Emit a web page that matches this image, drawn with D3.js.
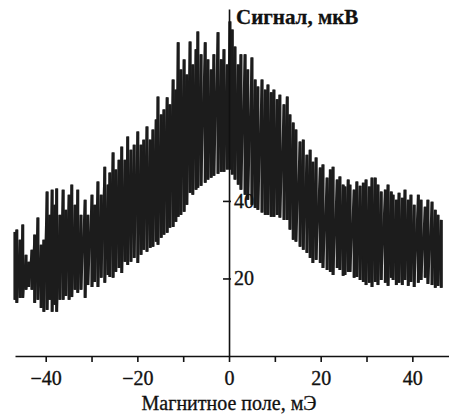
<!DOCTYPE html>
<html>
  <head>
    <meta charset="utf-8" />
    <title>Сигнал vs магнитное поле</title>
    <style>
      body { margin: 0; background: #fff; }
      svg { display: block; }
      .axis path, .axis line { stroke: #111; stroke-width: 1.6; }
      .axis text { font-family: "Liberation Serif", "DejaVu Serif", serif; font-size: 20px; fill: #111; stroke: #111; stroke-width: 0.35; }
      .title { font-family: "Liberation Serif", "DejaVu Serif", serif; font-size: 20px; fill: #111; stroke: #111; stroke-width: 0.3; }
    </style>
  </head>
  <body>
    <svg width="449" height="418"></svg>

    <script src="https://d3js.org/d3.v7.min.js"></script>
    <script>
      // magnetic field, mOe (sample positions)
      const field = [
        -46.7, -46.3, -45.6, -45.0, -44.3, -43.7, -43.0, -42.4, -41.7, -41.0,
        -40.4, -39.7, -39.1, -38.6, -38.0, -37.6, -36.9, -36.2, -35.6, -34.9,
        -34.3, -33.6, -33.0, -32.3, -31.4, -30.8, -29.9, -29.3, -28.6, -27.9,
        -27.1, -26.4, -26.0, -25.3, -24.7, -24.0, -23.4, -22.7, -22.1, -21.4,
        -20.7, -19.9, -19.2, -18.6, -17.9, -17.2, -16.6, -15.9, -15.5, -14.8,
        -14.2, -13.5, -12.9, -12.2, -11.6, -11.1, -10.5, -9.8, -9.2, -8.5,
        -7.9, -7.2, -6.8, -6.1, -5.2, -4.6, -3.9, -3.3, -2.4, -1.7,
        -1.1, -0.4, 0.2, 0.7, 1.3, 2.0, 2.6, 3.5, 4.1, 5.0,
        5.7, 6.3, 7.2, 7.9, 8.5, 9.2, 9.8, 10.5, 11.1, 12.0,
        12.7, 13.3, 14.0, 14.6, 15.5, 16.2, 17.0, 17.7, 18.3, 19.0,
        19.9, 20.5, 21.4, 22.1, 22.7, 23.6, 24.2, 24.9, 25.3, 26.0,
        26.4, 27.3, 27.9, 28.6, 29.3, 29.9, 30.6, 31.2, 31.9, 32.5,
        33.2, 34.1, 34.7, 35.4, 35.8, 36.5, 37.1, 37.8, 38.4, 39.1,
        39.7, 40.4, 41.3, 41.9, 42.8, 43.4, 44.3, 45.0, 45.6, 46.3
      ];
      // signal swing at each position, uV (upper and lower excursions)
      const sigHigh = [
        32.0, 32.6, 30.0, 33.9, 26.1, 24.3, 27.4, 31.3, 35.7, 28.7,
        30.0, 42.4, 36.4, 42.9, 39.0, 43.2, 36.4, 42.9, 37.7, 41.6,
        44.2, 39.0, 42.9, 36.4, 40.3, 36.4, 41.6, 39.0, 45.0, 41.6,
        48.8, 44.2, 47.3, 52.5, 48.1, 50.6, 54.0, 50.6, 56.6, 53.2,
        54.5, 57.9, 54.5, 55.8, 59.2, 55.8, 58.4, 61.0, 66.9, 62.3,
        63.6, 66.7, 64.9, 71.3, 68.7, 80.9, 73.9, 76.5, 72.6, 81.1,
        75.2, 79.1, 83.7, 77.8, 80.9, 76.5, 73.9, 77.8, 83.5, 76.5,
        79.1, 75.2, 86.3, 84.2, 79.8, 75.2, 77.8, 77.8, 73.9, 77.0,
        71.3, 69.5, 71.3, 68.7, 70.0, 68.0, 68.7, 66.2, 67.4, 64.9,
        66.9, 62.3, 60.2, 58.4, 55.3, 55.8, 51.9, 53.2, 50.1, 51.2,
        48.6, 49.4, 46.0, 48.1, 48.8, 45.5, 46.3, 44.2, 43.7, 45.5,
        44.2, 42.9, 45.0, 43.9, 44.7, 45.5, 43.7, 46.0, 46.0, 44.2,
        42.4, 42.9, 44.2, 42.4, 41.6, 40.3, 42.1, 40.8, 42.9, 40.3,
        41.6, 39.0, 41.6, 40.3, 38.5, 40.3, 39.8, 37.7, 36.4, 35.1
      ];
      const sigLow = [
        14.5, 13.7, 15.0, 15.0, 17.1, 17.8, 17.1, 13.7, 14.5, 12.4,
        11.4, 11.9, 14.5, 11.4, 13.2, 11.4, 14.5, 14.5, 15.5, 14.5,
        15.2, 17.1, 16.3, 17.1, 15.0, 18.3, 17.8, 19.1, 17.8, 20.2,
        18.9, 20.9, 20.4, 20.2, 21.7, 22.7, 21.4, 24.3, 23.5, 24.3,
        25.3, 24.0, 26.1, 27.4, 26.9, 27.9, 28.2, 29.5, 28.7, 30.5,
        31.3, 31.8, 33.1, 33.3, 34.6, 35.9, 36.4, 37.2, 39.0, 42.1,
        41.6, 42.9, 43.4, 43.9, 44.7, 45.5, 46.0, 46.5, 47.0, 47.5,
        47.5, 48.1, 48.1, 46.8, 45.5, 44.2, 42.9, 41.6, 40.3, 39.0,
        38.2, 37.7, 37.0, 36.4, 36.4, 35.9, 35.9, 36.4, 35.7, 35.1,
        35.1, 32.6, 30.0, 29.5, 28.2, 27.4, 26.6, 25.3, 24.0, 24.8,
        24.0, 22.7, 22.2, 21.7, 20.9, 22.7, 22.2, 20.7, 20.9, 21.7,
        21.7, 20.2, 20.4, 19.6, 19.1, 18.3, 18.9, 17.8, 19.1, 18.3,
        19.6, 18.9, 18.1, 20.2, 19.6, 18.3, 18.9, 18.3, 19.6, 18.1,
        19.1, 17.8, 18.9, 19.6, 20.2, 18.6, 18.3, 17.6, 18.1, 17.6
      ];

      const xTicks = [-40, -30, -20, -10, 0, 10, 20, 30, 40];
      const xLabels = [-40, -20, 0, 20, 40];
      const yTicks = [20, 40];

      const svg = d3.select("svg");

      const x = d3.scaleLinear().domain([-46.7, 48]).range([15, 449]);
      const y = d3.scaleLinear().domain([0, 89.5]).range([356, 9]);

      // the noisy trace: up to the high excursion, down to the low one
      const pts = [];
      field.forEach((f, i) => {
        pts.push([f, sigHigh[i]]);
        pts.push([f, sigLow[i]]);
      });

      svg.append("g")
        .selectAll("line")
        .data(field)
        .enter().append("line")
        .attr("x1", d => x(d))
        .attr("x2", d => x(d))
        .attr("y1", (d, i) => y(sigHigh[i]))
        .attr("y2", (d, i) => y(sigLow[i]))
        .attr("stroke", "#1c1c1c")
        .attr("stroke-width", 3);

      svg.append("path")
        .datum(pts)
        .attr("fill", "none")
        .attr("stroke", "#1c1c1c")
        .attr("stroke-width", 2.4)
        .attr("d", d3.line().x(d => x(d[0])).y(d => y(d[1])));

      // x axis along y = 0
      const xAxis = svg.append("g")
        .attr("class", "axis")
        .attr("transform", "translate(0," + y(0) + ")")
        .call(d3.axisBottom(x)
          .tickValues(xTicks)
          .tickSize(6)
          .tickSizeOuter(0)
          .tickFormat(d => xLabels.includes(d) ? d3.format("d")(d) : ""));
      xAxis.selectAll("text").attr("dy", "1.0em");

      // y axis through field = 0, labels on its right
      const yAxis = svg.append("g")
        .attr("class", "axis")
        .attr("transform", "translate(" + x(0) + ",0)")
        .call(d3.axisRight(y)
          .tickValues(yTicks)
          .tickSize(0)
          .tickSizeOuter(0)
          .tickFormat(d3.format("d")));
      yAxis.selectAll("text").attr("x", 5);
      yAxis.selectAll(".tick").append("line")
        .attr("x1", -6).attr("x2", 2)
        .attr("stroke", "#111").attr("stroke-width", 1.6);

      svg.append("text")
        .attr("class", "title")
        .attr("x", x(0) + 7)
        .attr("y", 24)
        .attr("font-weight", "bold")
        .style("font-size", "21px")
        .text("Сигнал, мкВ");

      svg.append("text")
        .attr("class", "title")
        .attr("x", x(0))
        .attr("y", 410)
        .attr("text-anchor", "middle")
        .text("Магнитное поле, мЭ");
    </script>
  </body>
</html>
